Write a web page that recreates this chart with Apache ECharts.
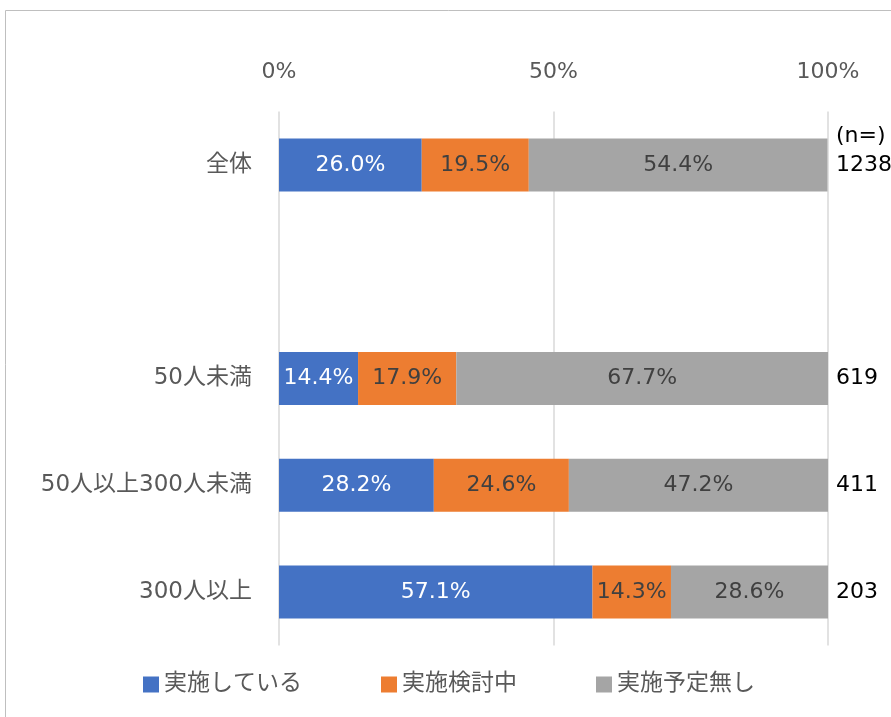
<!DOCTYPE html>
<html>
<head>
<meta charset="utf-8">
<script src="https://cdn.jsdelivr.net/npm/echarts@6/dist/echarts.min.js"></script>
<style>
  html, body { margin: 0; padding: 0; background: #fff; }
  #chart { width: 891px; height: 717px; }
</style>
</head>
<body>
<div id="chart"></div>
<script>
// categories (blank row between 全体 and the size groups)
const categories = ['全体', '', '50人未満', '50人以上300人未満', '300人以上'];
const sampleSizes = ['1238', '', '619', '411', '203'];
const seriesNames = ['実施している', '実施検討中', '実施予定無し'];
const doing = [26.0, '-', 14.4, 28.2, 57.1];
const considering = [19.5, '-', 17.9, 24.6, 14.3];
const noPlan = [54.4, '-', 67.7, 47.2, 28.6];
const xTicks = [0, 50, 100];

const FONT = '"DejaVu Sans", "Noto Sans CJK JP", sans-serif';
const colors = ['#4472C4', '#ED7D31', '#A5A5A5'];

const chart = echarts.init(document.getElementById('chart'));

function barSeries(name, data, color, labelColor) {
  return {
    name: name,
    type: 'bar',
    stack: 'total',
    data: data,
    barWidth: 53,
    itemStyle: { color: color },
    label: {
      show: true,
      position: 'inside',
      color: labelColor,
      fontFamily: FONT,
      fontSize: 22,
      formatter: p => p.value.toFixed(1) + '%'
    }
  };
}

const option = {
  animation: false,
  textStyle: { fontFamily: FONT },
  graphic: [{
    type: 'rect',
    shape: { x: 5.5, y: 10.5, width: 900, height: 720 },
    style: { fill: 'none', stroke: '#bfbfbf', lineWidth: 1 },
    silent: true
  }],
  grid: { left: 279, right: 63, top: 111.5, bottom: 71.5, outerBoundsMode: 'none' },
  legend: {
    bottom: 16,
    left: 138,
    itemWidth: 16,
    itemHeight: 16,
    itemGap: 79,
    icon: 'rect',
    textStyle: { fontFamily: FONT, fontSize: 23, color: '#595959' },
    data: seriesNames
  },
  xAxis: {
    type: 'value',
    position: 'top',
    min: xTicks[0],
    max: xTicks[xTicks.length - 1],
    interval: 50,
    axisLine: { show: false },
    axisTick: { show: false },
    axisLabel: {
      formatter: '{value}%',
      color: '#595959',
      fontFamily: FONT,
      fontSize: 22,
      margin: 28
    },
    splitLine: { show: true, lineStyle: { color: '#d9d9d9', width: 1.5 } }
  },
  yAxis: [{
    type: 'category',
    data: categories,
    inverse: true,
    axisLine: { show: false },
    axisTick: { show: false },
    axisLabel: { color: '#595959', fontFamily: FONT, fontSize: 23, margin: 27 }
  }, {
    type: 'category',
    position: 'right',
    data: sampleSizes,
    inverse: true,
    axisLine: { show: false },
    axisTick: { show: false },
    axisLabel: {
      color: '#000000',
      fontFamily: FONT,
      fontSize: 22,
      margin: 8,
      align: 'left',
      // first row carries the "(n=)" header above its count
      formatter: (v, i) => i === 0 ? '{t|(n=)}\n{t|' + v + '}\n{t| }' : v,
      rich: {
        t: { fontFamily: FONT, fontSize: 22, color: '#000000', lineHeight: 29 }
      }
    }
  }],
  series: [
    barSeries(seriesNames[0], doing, colors[0], '#ffffff'),
    barSeries(seriesNames[1], considering, colors[1], '#404040'),
    barSeries(seriesNames[2], noPlan, colors[2], '#404040')
  ]
};

chart.setOption(option);
</script>
</body>
</html>
